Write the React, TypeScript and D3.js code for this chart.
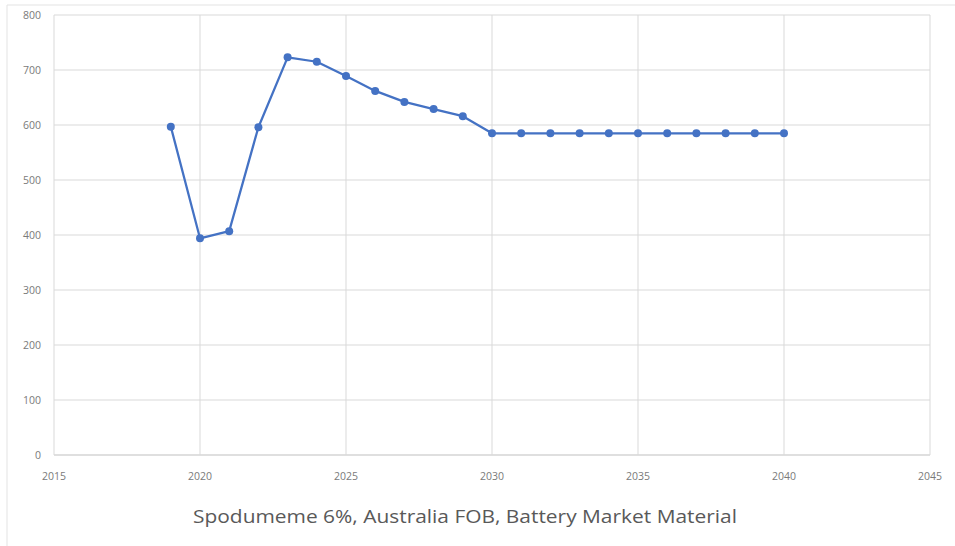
import React from "react";
import * as d3 from "d3";

const years = [2019, 2020, 2021, 2022, 2023, 2024, 2025, 2026, 2027, 2028, 2029, 2030, 2031, 2032, 2033, 2034, 2035, 2036, 2037, 2038, 2039, 2040];
const prices = [597, 394, 407, 596, 723, 715, 689, 662, 642, 629, 616, 585, 585, 585, 585, 585, 585, 585, 585, 585, 585, 585];
const xTicks = [2015, 2020, 2025, 2030, 2035, 2040, 2045];
const yTicks = [0, 100, 200, 300, 400, 500, 600, 700, 800];
const title = "Spodumeme 6%, Australia FOB, Battery Market Material";

const W = 955;
const H = 546;
const left = 54;
const right = 930;
const top = 15;
const bottom = 455;

export default function App() {
  const x = d3.scaleLinear().domain([2015, 2045]).range([left, right]);
  const y = d3.scaleLinear().domain([0, 800]).range([bottom, top]);
  const line = d3
    .line<number>()
    .x((_, i) => x(years[i]))
    .y((d) => y(d));
  const font = "'Open Sans', 'Noto Sans', sans-serif";
  return (
    <svg
      width={W}
      height={H}
      style={{ position: "absolute", left: 0, top: 0, background: "#fff" }}
    >
      <line x1={7} y1={5} x2={W} y2={5} stroke="#e3e3e3" strokeWidth={1} />
      <line x1={7} y1={5} x2={7} y2={H} stroke="#e3e3e3" strokeWidth={1} />
      {yTicks.map((t) => (
        <g key={"y" + t}>
          <line x1={left} x2={right} y1={y(t)} y2={y(t)} stroke={t === 0 ? "#bfbfbf" : "#d9d9d9"} strokeWidth={1} />
          <text x={41} y={y(t) + 4} textAnchor="end" fontSize={10.5} fill="#7a7a7a" fontFamily={font}>
            {t}
          </text>
        </g>
      ))}
      {xTicks.map((t) => (
        <g key={"x" + t}>
          <line x1={x(t)} x2={x(t)} y1={top} y2={bottom} stroke="#d9d9d9" strokeWidth={1} />
          <text x={x(t)} y={480} textAnchor="middle" fontSize={10.5} fill="#7a7a7a" fontFamily={font}>
            {t}
          </text>
        </g>
      ))}
      <path d={line(prices) || ""} fill="none" stroke="#4472C4" strokeWidth={2.25} strokeLinejoin="round" />
      {prices.map((p, i) => (
        <circle key={i} cx={x(years[i])} cy={y(p)} r={4} fill="#4472C4" />
      ))}
      <text
        x={465}
        y={523}
        textAnchor="middle"
        fontSize={19}
        fill="#595959"
        fontFamily={font}
        textLength={544}
        lengthAdjust="spacingAndGlyphs"
      >
        {title}
      </text>
    </svg>
  );
}
